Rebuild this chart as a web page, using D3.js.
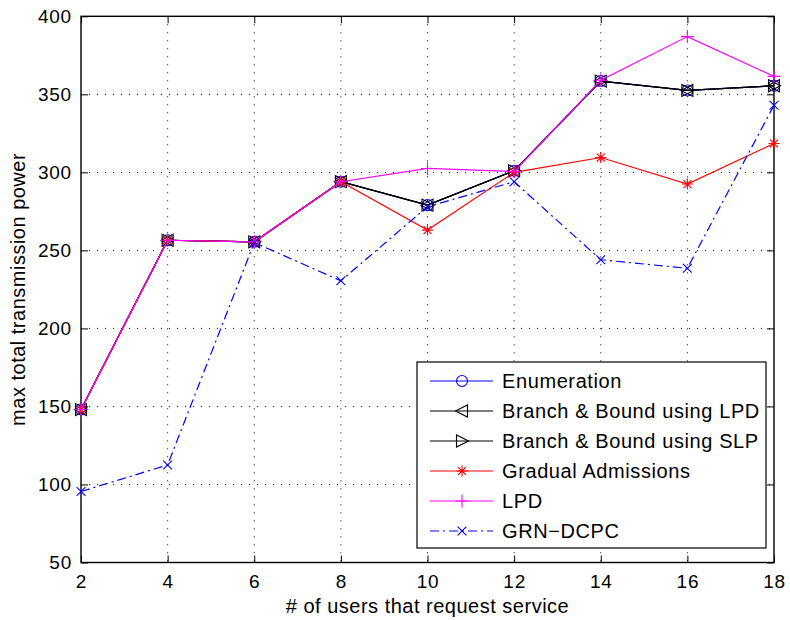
<!DOCTYPE html>
<html><head><meta charset="utf-8">
<script src="https://cdn.jsdelivr.net/npm/d3@7"></script>
<style>
body{margin:0;background:#fff;}
text{font-family:"Liberation Sans",Arial,Helvetica,sans-serif;fill:#000;}
</style></head>
<body><svg id="chart" width="790" height="620"></svg>
<script>
const users = [2, 4, 6, 8, 10, 12, 14, 16, 18];
const enumeration = [148, 256.5, 255.5, 294, 279, 301, 358.5, 352.5, 355.5];
const bbLPD = [148, 256.5, 255.5, 294, 279, 301, 358.5, 352.5, 355.5];
const bbSLP = [148, 256.5, 255.5, 294, 279, 301, 358.5, 352.5, 355.5];
const gradual = [148, 256.5, 255.5, 294, 263, 300, 309.5, 292.5, 318.5];
const lpd = [148, 256.5, 255.5, 294, 302.5, 300.5, 359, 387, 361.5];
const grn = [95.5, 112.5, 255, 230.5, 278, 294, 244, 238.5, 343];
const xTicks = [2, 4, 6, 8, 10, 12, 14, 16, 18];
const yTicks = [50, 100, 150, 200, 250, 300, 350, 400];
const seriesNames = ["Enumeration", "Branch & Bound using LPD", "Branch & Bound using SLP", "Gradual Admissions", "LPD", "GRN\u2212DCPC"];

const series = [
  {name: seriesNames[0], values: enumeration, color: "#0000ff", marker: "circle", dash: null},
  {name: seriesNames[1], values: bbLPD, color: "#000000", marker: "triLeft", dash: null},
  {name: seriesNames[2], values: bbSLP, color: "#000000", marker: "triRight", dash: null},
  {name: seriesNames[3], values: gradual, color: "#ff0000", marker: "star", dash: null},
  {name: seriesNames[4], values: lpd, color: "#ff00ff", marker: "plus", dash: null},
  {name: seriesNames[5], values: grn, color: "#0000ff", marker: "cross", dash: "9,4,2,4"}
];

const L = 81, R = 774, T = 16.3, B = 562.5;
const svg = d3.select("#chart");
const x = d3.scaleLinear().domain([2, 18]).range([L, R]);
const y = d3.scaleLinear().domain([50, 400]).range([B, T]);

// grid
const grid = svg.append("g");
grid.selectAll("line.gx").data(xTicks.slice(1, -1)).enter().append("line")
  .attr("x1", d => x(d)).attr("x2", d => x(d)).attr("y1", T).attr("y2", B)
  .attr("stroke", "#000").attr("stroke-width", 1).attr("stroke-dasharray", "1,7");
grid.selectAll("line.gy").data(yTicks.slice(1, -1)).enter().append("line")
  .attr("y1", d => y(d)).attr("y2", d => y(d)).attr("x1", L).attr("x2", R)
  .attr("stroke", "#000").attr("stroke-width", 1).attr("stroke-dasharray", "1,7");

// axes (inside ticks on all sides)
const tl = 7;
const axB = d3.axisBottom(x).tickValues(xTicks).tickSize(-tl).tickPadding(12).tickFormat(d3.format("d"));
const axT = d3.axisTop(x).tickValues(xTicks).tickSize(-tl).tickFormat("");
const axL = d3.axisLeft(y).tickValues(yTicks).tickSize(-tl).tickPadding(9).tickFormat(d3.format("d"));
const axR = d3.axisRight(y).tickValues(yTicks).tickSize(-tl).tickFormat("");
function styleAxis(g) {
  g.select(".domain").remove();
  g.selectAll(".tick line").attr("stroke", "#000").attr("stroke-width", 1);
  g.selectAll("text").style("font-size", "19px").style("letter-spacing", "0.8px")
    .attr("font-family", null).attr("fill", "#000");
}
svg.append("g").attr("transform", `translate(0,${B})`).call(axB).call(styleAxis);
svg.append("g").attr("transform", `translate(0,${T})`).call(axT).call(styleAxis);
svg.append("g").attr("transform", `translate(${L},0)`).call(axL).call(styleAxis);
svg.append("g").attr("transform", `translate(${R},0)`).call(axR).call(styleAxis);
svg.append("rect").attr("x", L).attr("y", T).attr("width", R - L).attr("height", B - T)
  .attr("fill", "none").attr("stroke", "#000").attr("stroke-width", 1.4);

// markers
function markerPath(type) {
  const s = 5.5;
  switch (type) {
    case "circle": return `M${s},0A${s},${s} 0 1,1 ${-s},0A${s},${s} 0 1,1 ${s},0Z`;
    case "triLeft": return `M${-s-1},0L${s},${-s-0.5}L${s},${s+0.5}Z`;
    case "triRight": return `M${s+1},0L${-s},${-s-0.5}L${-s},${s+0.5}Z`;
    case "star": { const a = s * 0.72; return `M${-s},0L${s},0M0,${-s}L0,${s}M${-a},${-a}L${a},${a}M${-a},${a}L${a},${-a}`; }
    case "plus": { const p = s + 1; return `M${-p},0L${p},0M0,${-p}L0,${p}`; }
    case "cross": { const c = s * 0.8; return `M${-c},${-c}L${c},${c}M${-c},${c}L${c},${-c}`; }
  }
}

const line = d3.line().x((d, i) => x(users[i])).y(d => y(d));
series.forEach(s => {
  const g = svg.append("g");
  g.append("path").attr("d", line(s.values)).attr("fill", "none")
    .attr("stroke", s.color).attr("stroke-width", 1.2)
    .attr("stroke-dasharray", s.dash);
  g.selectAll("path.m").data(s.values).enter().append("path")
    .attr("transform", (d, i) => `translate(${x(users[i])},${y(d)})`)
    .attr("d", markerPath(s.marker)).attr("fill", "none")
    .attr("stroke", s.color).attr("stroke-width", 1.1);
});

// axis titles
svg.append("text").attr("x", (L + R) / 2).attr("y", 613).attr("text-anchor", "middle")
  .style("font-size", "20px").style("letter-spacing", "0.5px").text("# of users that request service");
svg.append("text").attr("transform", `translate(25,${(T + B) / 2}) rotate(-90)`).attr("text-anchor", "middle")
  .style("font-size", "20px").style("letter-spacing", "0.5px").text("max total transmission power");

// legend
const lg = svg.append("g");
lg.append("rect").attr("x", 417).attr("y", 362).attr("width", 349).attr("height", 186)
  .attr("fill", "#fff").attr("stroke", "#000").attr("stroke-width", 1.2);
series.forEach((s, i) => {
  const cy = 381 + i * 30;
  lg.append("line").attr("x1", 430).attr("x2", 493).attr("y1", cy).attr("y2", cy)
    .attr("stroke", s.color).attr("stroke-width", 1.2).attr("stroke-dasharray", s.dash);
  lg.append("path").attr("transform", `translate(462,${cy})`).attr("d", markerPath(s.marker))
    .attr("fill", "none").attr("stroke", s.color).attr("stroke-width", 1.1);
  lg.append("text").attr("x", 502).attr("y", cy + 7).style("font-size", "20px")
    .style("letter-spacing", "0.6px").text(s.name);
});
</script></body></html>
